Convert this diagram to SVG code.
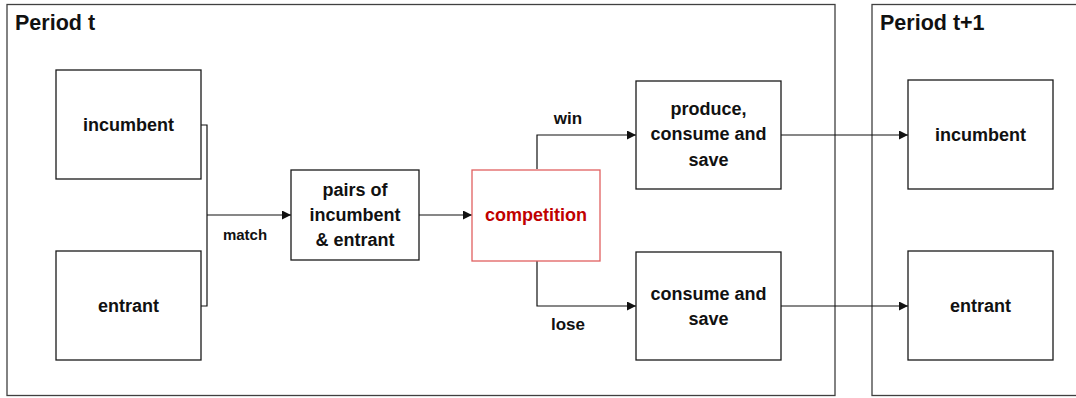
<svg xmlns="http://www.w3.org/2000/svg" width="1076" height="398" viewBox="0 0 1076 398">
<style>
.frame{fill:none;stroke:#404040;stroke-width:1.3}
.box{fill:#fff;stroke:#1a1a1a;stroke-width:1.3}
.red{fill:#fff;stroke:#e06060;stroke-width:1.3}
.t{font-family:"Liberation Sans",Arial,sans-serif;font-weight:bold;font-size:18px;fill:#111;text-anchor:middle}
.tr{fill:#c00000}
.title{font-family:"Liberation Sans",Arial,sans-serif;font-weight:bold;font-size:21.5px;fill:#111}
.lbl{font-family:"Liberation Sans",Arial,sans-serif;font-weight:bold;font-size:17px;fill:#111;text-anchor:middle}
.c{fill:none;stroke:#111;stroke-width:1.2}
</style>
<defs>
<marker id="ah" viewBox="0 0 10 10" refX="10" refY="5" markerWidth="9" markerHeight="9" markerUnits="userSpaceOnUse" orient="auto">
<path d="M0,0 L10,5 L0,10 z" fill="#111"/>
</marker>
</defs>
<rect width="1076" height="398" fill="#fff"/>
<g id="period-t">
<rect class="frame" x="7" y="4.5" width="828" height="391"/>
<text class="title" x="15" y="30">Period t</text>
</g>
<g id="period-t1">
<rect class="frame" x="872" y="4.5" width="210" height="391"/>
<text class="title" x="880" y="30">Period t+1</text>
</g>
<g id="connectors">
<polyline class="c" points="201,125 207,125 207,306 201,306"/>
<line class="c" x1="207" y1="215" x2="291" y2="215" marker-end="url(#ah)"/>
<line class="c" x1="419" y1="215" x2="472" y2="215" marker-end="url(#ah)"/>
<polyline class="c" points="537,169 537,135 636,135" marker-end="url(#ah)"/>
<polyline class="c" points="537,261 537,306 636,306" marker-end="url(#ah)"/>
<line class="c" x1="781" y1="135" x2="908" y2="135" marker-end="url(#ah)"/>
<line class="c" x1="781" y1="306" x2="908" y2="306" marker-end="url(#ah)"/>
<text class="lbl" x="245" y="240" style="font-size:15px">match</text>
<text class="lbl" x="568" y="124">win</text>
<text class="lbl" x="568" y="330">lose</text>
</g>
<g id="incumbent-t">
<rect class="box" x="56" y="70" width="145" height="109"/>
<text class="t" x="128.5" y="131">incumbent</text>
</g>
<g id="entrant-t">
<rect class="box" x="56" y="251" width="145" height="109"/>
<text class="t" x="128.5" y="312">entrant</text>
</g>
<g id="pairs">
<rect class="box" x="291" y="170" width="128" height="90"/>
<text class="t" x="355" y="196">pairs of</text>
<text class="t" x="355" y="221">incumbent</text>
<text class="t" x="355" y="246">&amp; entrant</text>
</g>
<g id="competition">
<rect class="red" x="472" y="170" width="128" height="91"/>
<text class="t tr" x="536" y="221">competition</text>
</g>
<g id="produce">
<rect class="box" x="636" y="81" width="145" height="108"/>
<text class="t" x="708.5" y="115">produce,</text>
<text class="t" x="708.5" y="140">consume and</text>
<text class="t" x="708.5" y="166">save</text>
</g>
<g id="consume">
<rect class="box" x="636" y="252" width="145" height="108"/>
<text class="t" x="708.5" y="300">consume and</text>
<text class="t" x="708.5" y="325">save</text>
</g>
<g id="incumbent-t1">
<rect class="box" x="908" y="80" width="145" height="109"/>
<text class="t" x="980.5" y="141">incumbent</text>
</g>
<g id="entrant-t1">
<rect class="box" x="908" y="251" width="145" height="109"/>
<text class="t" x="980.5" y="312">entrant</text>
</g>
</svg>
